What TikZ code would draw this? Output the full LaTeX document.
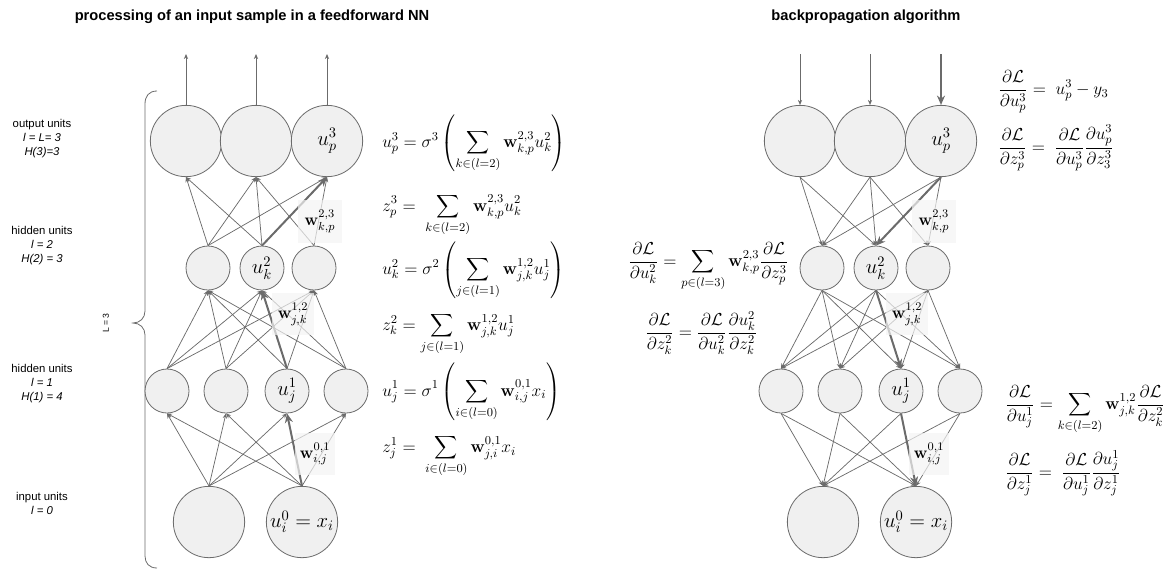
\RequirePackage{fix-cm}
\documentclass[tikz,border=0pt]{standalone}
\usepackage{amsmath}
\usepackage[no-math]{fontspec}
\newfontfamily\lsans{Liberation Sans}
\usetikzlibrary{arrows.meta}
\definecolor{edgegray}{HTML}{6B6B6B}
\definecolor{nodefill}{HTML}{F0F0F0}
\definecolor{wfill}{HTML}{F3F3F3}
\tikzset{
  unit/.style={circle, draw=edgegray, fill=nodefill, line width=0.6pt, inner sep=0pt, font=\fontsize{15.5}{17}\selectfont},
  bigunit/.style={unit, minimum size=53.5pt},
  smallunit/.style={unit, minimum size=33pt},
  edge/.style={draw=edgegray, line width=0.55pt, -{Stealth[length=3.8pt,width=3.2pt]}},
  thickedge/.style={draw=edgegray, line width=1.5pt, -{Stealth[length=7pt,width=6pt]}},
  wbox/.style={fill=wfill, fill opacity=0.7, text opacity=1, inner sep=0pt, font=\fontsize{12.5}{14}\selectfont},
  eq/.style={anchor=base west, inner sep=0pt, font=\fontsize{13}{15}\selectfont},
  lab/.style={align=center, font=\lsans\fontsize{8.5}{10.5}\selectfont},
  ttl/.style={font=\lsans\bfseries\fontsize{11}{13}\selectfont},
}
\begin{document}
\begin{tikzpicture}[x=0.75pt,y=-0.75pt]
\useasboundingbox (0,0) rectangle (1170,569);
% titles
\node[ttl] (t1) at (252,17) {processing of an input sample in a feedforward NN};
\node[ttl] (t2) at (866,17) {backpropagation algorithm};
% layer labels
\node[lab] (lo) at (42,139) {output units\\\textit{l = L= 3}\\\textit{H(3)=3}};
\node[lab] (lh2) at (42,246) {hidden units\\\textit{l = 2}\\\textit{H(2) = 3}};
\node[lab] (lh1) at (42,384) {hidden units\\\textit{l = 1}\\\textit{H(1) = 4}};
\node[lab] (li) at (42,503) {input units\\\textit{l = 0}};
% brace
\draw[edgegray, line width=0.6pt] (157,91) .. controls (149,91) and (145,96) .. (145,104) -- (145,311) .. controls (145,318) and (140,323) .. (133,323) .. controls (140,323) and (145,328) .. (145,335) -- (145,556) .. controls (145,563) and (149,568) .. (157,568);
\node[lab, font=\lsans\fontsize{6.5}{8}\selectfont, rotate=90] (Lval) at (106,323) {L = 3};
% networks
\foreach \s/\dx in {L/0, R/614}{
  \node[bigunit] (\s3n1) at (186+\dx,141) {};
  \node[bigunit] (\s3n2) at (256+\dx,141) {};
  \node[bigunit] (\s3n3) at (327+\dx,141) {$u_p^3$};
  \node[smallunit] (\s2n1) at (208+\dx,268) {};
  \node[smallunit] (\s2n2) at (262+\dx,268) {$u_k^2$};
  \node[smallunit] (\s2n3) at (314+\dx,268) {};
  \node[smallunit] (\s1n1) at (167+\dx,391) {};
  \node[smallunit] (\s1n2) at (226+\dx,391) {};
  \node[smallunit] (\s1n3) at (287+\dx,391) {$u_j^1$};
  \node[smallunit] (\s1n4) at (346+\dx,391) {};
  \node[bigunit] (\s0n1) at (209+\dx,522) {};
  \node[bigunit] (\s0n2) at (302+\dx,522) {$u_i^0 = x_i$};
  \coordinate (\s t1) at (186+\dx,54);
  \coordinate (\s t2) at (256+\dx,54);
  \coordinate (\s t3) at (327+\dx,54);
}
% left: forward edges
\foreach \a in {1,2}{\foreach \b in {1,...,4}{
  \ifnum\a\b=23 \else \draw[edge] (L0n\a.north) -- (L1n\b.south); \fi}}
\foreach \a in {1,...,4}{\foreach \b in {1,2,3}{
  \ifnum\a\b=32 \else \draw[edge] (L1n\a.north) -- (L2n\b.south); \fi}}
\foreach \a in {1,2,3}{\foreach \b in {1,2,3}{
  \ifnum\a\b=23 \else \ifnum\a\b=31 \else \draw[edge] (L2n\a.north) -- (L3n\b.south); \fi\fi}}
\draw[thickedge] (L0n2.north) -- (L1n3.south);
\draw[thickedge] (L1n3.north) -- (L2n2.south);
\draw[thickedge] (L2n2.north) -- (L3n3.south);
\foreach \b in {1,2,3}{\draw[edge] (L3n\b.north) -- (Lt\b);}
% right: backward edges
\foreach \a in {1,2}{\foreach \b in {1,...,4}{
  \ifnum\a\b=23 \else \draw[edge] (R1n\b.south) -- (R0n\a.north); \fi}}
\foreach \a in {1,...,4}{\foreach \b in {1,2,3}{
  \ifnum\a\b=32 \else \draw[edge] (R2n\b.south) -- (R1n\a.north); \fi}}
\foreach \a in {1,2,3}{\foreach \b in {1,2,3}{
  \ifnum\a\b=23 \else \ifnum\a\b=31 \else \draw[edge] (R3n\b.south) -- (R2n\a.north); \fi\fi}}
\draw[thickedge] (R1n3.south) -- (R0n2.north);
\draw[thickedge] (R2n2.south) -- (R1n3.north);
\draw[thickedge] (R3n3.south) -- (R2n2.north);
\draw[edge] (Rt1) -- (R3n1.north);
\draw[edge] (Rt2) -- (R3n2.north);
\draw[thickedge] (Rt3) -- (R3n3.north);
% weight labels
\foreach \s/\dx in {L/0, R/614}{
  \node[wbox, minimum width=33pt, minimum height=32pt] (\s w23) at (320+\dx,221.5) {$\mathbf{w}^{2,3}_{k,p}$};
  \node[wbox, minimum width=31pt, minimum height=31pt] (\s w12) at (293+\dx,314) {$\mathbf{w}^{1,2}_{j,k}$};
  \node[wbox, minimum width=30pt, minimum height=31pt] (\s w01) at (315+\dx,454) {$\mathbf{w}^{0,1}_{i,j}$};
}
% left equations
\node[eq] (e1) at (382,147.5) {$\displaystyle u_p^3 = \sigma^3\left(\sum_{k\in(l=2)} \mathbf{w}^{2,3}_{k,p}u_k^2\right)$};
\node[eq] (e2) at (382,211) {$\displaystyle z_p^3 = \;\sum_{k\in(l=2)} \mathbf{w}^{2,3}_{k,p}u_k^2$};
\node[eq] (e3) at (382,274.5) {$\displaystyle u_k^2 = \sigma^2\left(\sum_{j\in(l=1)} \mathbf{w}^{1,2}_{j,k}u_j^1\right)$};
\node[eq] (e4) at (382,330.5) {$\displaystyle z_k^2 = \sum_{j\in(l=1)} \mathbf{w}^{1,2}_{j,k}u_j^1$};
\node[eq] (e5) at (382,396) {$\displaystyle u_j^1 = \sigma^1\left(\sum_{i\in(l=0)} \mathbf{w}^{0,1}_{i,j}x_i\right)$};
\node[eq] (e6) at (382,452.5) {$\displaystyle z_j^1 = \;\sum_{i\in(l=0)} \mathbf{w}^{0,1}_{j,i}x_i$};
% right equations
\node[eq] (r1) at (998,94.5) {$\displaystyle \frac{\partial\mathcal{L}}{\partial u_p^3} = \; u_p^3 - y_3$};
\node[eq] (r2) at (998,152.5) {$\displaystyle \frac{\partial\mathcal{L}}{\partial z_p^3} = \; \frac{\partial\mathcal{L}}{\partial u_p^3}\frac{\partial u_p^3}{\partial z_3^3}$};
\node[eq] (r3) at (628,266.5) {$\displaystyle \frac{\partial\mathcal{L}}{\partial u_k^2} = \sum_{p\in(l=3)} \mathbf{w}^{2,3}_{k,p}\frac{\partial\mathcal{L}}{\partial z_p^3}$};
\node[eq] (r4) at (645,337.5) {$\displaystyle \frac{\partial\mathcal{L}}{\partial z_k^2} = \frac{\partial\mathcal{L}}{\partial u_k^2}\frac{\partial u_k^2}{\partial z_k^2}$};
\node[eq] (r5) at (1005,409.5) {$\displaystyle \frac{\partial\mathcal{L}}{\partial u_j^1} = \sum_{k\in(l=2)} \mathbf{w}^{1,2}_{j,k}\frac{\partial\mathcal{L}}{\partial z_k^2}$};
\node[eq] (r6) at (1005,477.5) {$\displaystyle \frac{\partial\mathcal{L}}{\partial z_j^1} = \; \frac{\partial\mathcal{L}}{\partial u_j^1}\frac{\partial u_j^1}{\partial z_j^1}$};
\end{tikzpicture}
\end{document}
